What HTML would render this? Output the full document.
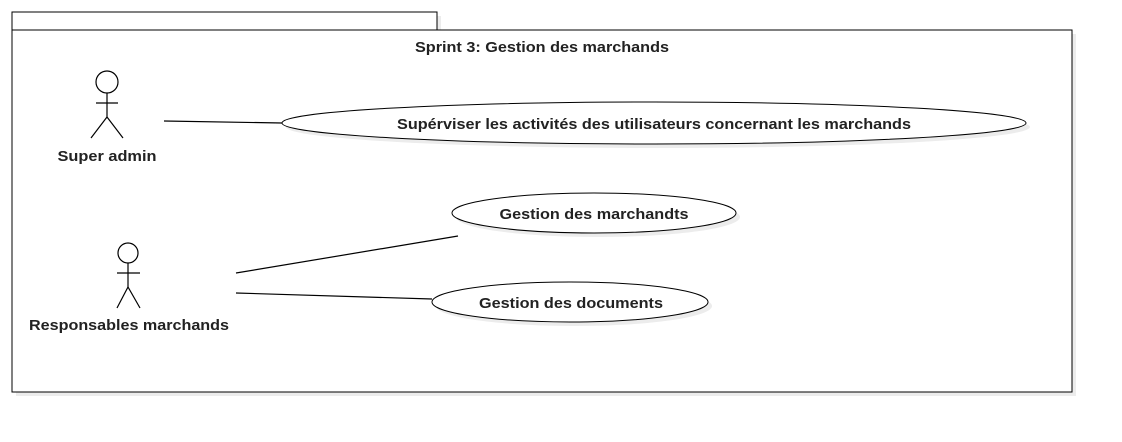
<!DOCTYPE html>
<html><head><style>body{margin:0;background:#fff}svg{display:block}</style></head><body>
<svg width="1122" height="442" xmlns="http://www.w3.org/2000/svg" font-family="Liberation Sans, sans-serif" font-weight="bold" font-size="15">
<rect x="16" y="34" width="1060" height="362" fill="#ececec"/>
<rect x="16" y="16" width="425" height="18" fill="#ececec"/>
<rect x="12" y="12" width="425" height="18" fill="#fff" stroke="#000"/>
<rect x="12" y="30" width="1060" height="362" fill="#fff" stroke="#000"/>
<text x="542" y="52" text-anchor="middle" fill="#222" textLength="254" lengthAdjust="spacingAndGlyphs">Sprint 3: Gestion des marchands</text>
<g stroke="#000" fill="none" stroke-width="1.2">
<circle cx="107" cy="82" r="11" fill="#fff"/>
<line x1="107" y1="93" x2="107" y2="117"/><line x1="96" y1="103" x2="118" y2="103"/>
<polyline points="91,138 107,117 123,138"/>
<circle cx="128" cy="253" r="10" fill="#fff"/>
<line x1="128" y1="263" x2="128" y2="287"/><line x1="117" y1="273" x2="140" y2="273"/>
<polyline points="117,308 128,287 140,308"/>
<line x1="164" y1="121" x2="282" y2="123"/>
<line x1="236" y1="273" x2="458" y2="236"/>
<line x1="236" y1="293" x2="432" y2="299"/>
</g>
<ellipse cx="658" cy="127" rx="372" ry="21" fill="#ececec"/>
<ellipse cx="598" cy="217" rx="142" ry="20" fill="#ececec"/>
<ellipse cx="574" cy="306" rx="138" ry="20" fill="#ececec"/>
<ellipse cx="654" cy="123" rx="372" ry="21" fill="#fff" stroke="#000"/>
<ellipse cx="594" cy="213" rx="142" ry="20" fill="#fff" stroke="#000"/>
<ellipse cx="570" cy="302" rx="138" ry="20" fill="#fff" stroke="#000"/>
<text x="654" y="129" text-anchor="middle" fill="#222" textLength="514" lengthAdjust="spacingAndGlyphs">Supérviser les activités des utilisateurs concernant les marchands</text>
<text x="594" y="219" text-anchor="middle" fill="#222" textLength="189" lengthAdjust="spacingAndGlyphs">Gestion des marchandts</text>
<text x="571" y="308" text-anchor="middle" fill="#222" textLength="184" lengthAdjust="spacingAndGlyphs">Gestion des documents</text>
<text x="107" y="161" text-anchor="middle" fill="#222" textLength="99" lengthAdjust="spacingAndGlyphs">Super admin</text>
<text x="129" y="330" text-anchor="middle" fill="#222" textLength="200" lengthAdjust="spacingAndGlyphs">Responsables marchands</text>
</svg>
</body></html>
